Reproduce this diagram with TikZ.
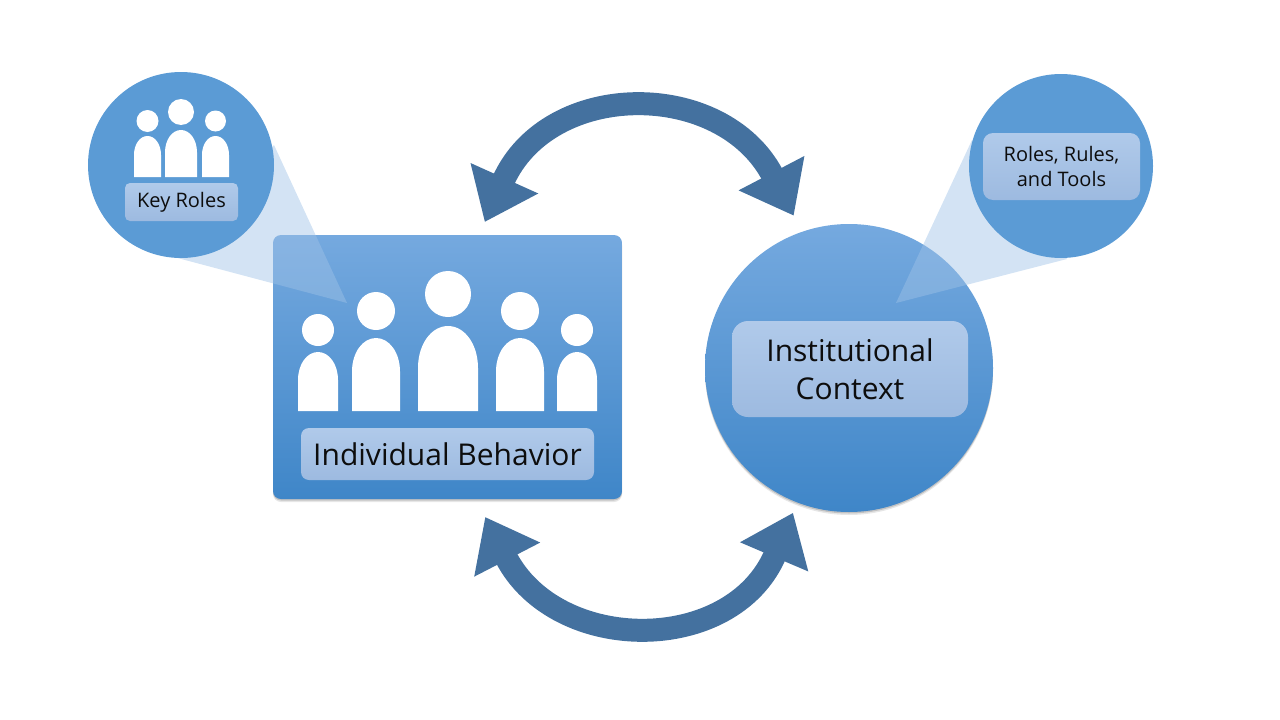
\documentclass[tikz,border=0pt]{standalone}
\usepackage{fontspec}
\setmainfont{Open Sans}
\usepackage{tikz}
\usetikzlibrary{arrows.meta, shadows}
\definecolor{bubbleblue}{HTML}{5B9BD5}
\definecolor{shadetop}{HTML}{75A9DF}
\definecolor{shadebottom}{HTML}{3F86C8}
\definecolor{labeltop}{HTML}{B0CAEA}
\definecolor{labelbottom}{HTML}{9DBAE0}
\definecolor{loopblue}{HTML}{44719F}
\definecolor{wedgeblue}{HTML}{9FC2E7}
\tikzstyle{softshadow} = [drop shadow={shadow xshift=0pt, shadow yshift=-3pt, fill=black!50, opacity=.2}, drop shadow={shadow xshift=0pt, shadow yshift=-1.5pt, fill=black!50, opacity=.35}]
\tikzstyle{mainbox} = [rectangle, rounded corners=8pt, minimum width=349pt, minimum height=264pt, inner sep=0pt, softshadow, top color=shadetop, middle color=bubbleblue, bottom color=shadebottom]
\tikzstyle{maincircle} = [circle, minimum size=288pt, inner sep=0pt, softshadow, top color=shadetop, middle color=bubbleblue, bottom color=shadebottom]
\tikzstyle{bubble} = [circle, inner sep=0pt, fill=bubbleblue]
\tikzstyle{labelbox} = [rectangle, inner sep=0pt, text centered, text=black!95, top color=labeltop, bottom color=labelbottom]
\tikzstyle{largetext} = [font=\fontsize{30}{38.5}\selectfont]
\tikzstyle{smalltext} = [font=\fontsize{20}{24.5}\selectfont]
\tikzstyle{wedge} = [fill=wedgeblue, fill opacity=.46]
\tikzstyle{icon} = [fill=white]
\tikzstyle{looparrow} = [line width=23pt, draw=loopblue, {Triangle[length=48pt,width=71pt]}-{Triangle[length=48pt,width=71pt]}]

\begin{document}
\begin{tikzpicture}[x=1pt, y=-1pt, node distance=87pt]
    \useasboundingbox (0,0) rectangle (1280,720);
    \node (behaviorBox) [mainbox] at (447.5,367) {};
    \node (contextCircle) [maincircle] at (849,368) {};
    \coordinate (keyTip) at (347,303);
    \coordinate (keyTangentA) at (274,145);
    \coordinate (keyTangentB) at (170,256);
    \coordinate (rolesTip) at (896,303);
    \coordinate (rolesTangentA) at (972,140);
    \coordinate (rolesTangentB) at (1067,259);
    \fill [wedge] (keyTangentA) -- (keyTip) -- (keyTangentB) -- cycle;
    \fill [wedge] (rolesTangentA) -- (rolesTip) -- (rolesTangentB) -- cycle;
    \node (keyCircle) [bubble, minimum size=186pt] at (181,165) {};
    \node (rolesCircle) [bubble, minimum size=184pt] at (1061,166) {};
    \node (behaviorLabel) [labelbox, largetext, rounded corners=8pt, minimum width=293pt, minimum height=52pt, below of = behaviorBox] {Individual Behavior};
    \node (contextLabel) [labelbox, largetext, rounded corners=16pt, minimum width=236pt, minimum height=96pt, align=center] at (850,369) {Institutional\\Context};
    \node (keyLabel) [labelbox, smalltext, rounded corners=5pt, minimum width=113pt, minimum height=38pt] at (181.5,202) {Key Roles};
    \node (rolesLabel) [labelbox, smalltext, rounded corners=10pt, minimum width=157pt, minimum height=67pt, align=center] at (1061.5,166.5) {Roles, Rules,\\and Tools};
    \foreach \cx/\hw/\top/\hy/\hr/\base in {318/20/352/330/16/411, 376/24/338/311/19/411, 448/30/326/294/23/411, 520/24/338/311/19/411, 577/20/352/330/16/411, 147.5/13.5/136/121/11/177, 181/16/130/112/13/177, 215.5/13.5/136/121/10.5/177} {
        \fill [icon] (\cx,\hy) circle [radius=\hr*1pt];
        \fill [icon] ({\cx-\hw},\base) -- ({\cx-\hw},{\top+1.4*\hw}) .. controls ({\cx-\hw},{\top+.6*\hw}) and ({\cx-.55*\hw},\top) .. (\cx,\top) .. controls ({\cx+.55*\hw},\top) and ({\cx+\hw},{\top+.6*\hw}) .. ({\cx+\hw},{\top+1.4*\hw}) -- ({\cx+\hw},\base) -- cycle;
    }
    \draw [looparrow, shorten <=14pt, shorten >=18pt] ([xshift=31.5pt]behaviorBox.north) .. controls (549,79) and (722,78.5) .. (contextCircle.109);
    \draw [looparrow, shorten <=20pt, shorten >=11pt] ([xshift=28.5pt]behaviorBox.south) .. controls (556.5,655) and (732,655.5) .. (contextCircle.249.5);
\end{tikzpicture}
\end{document}
